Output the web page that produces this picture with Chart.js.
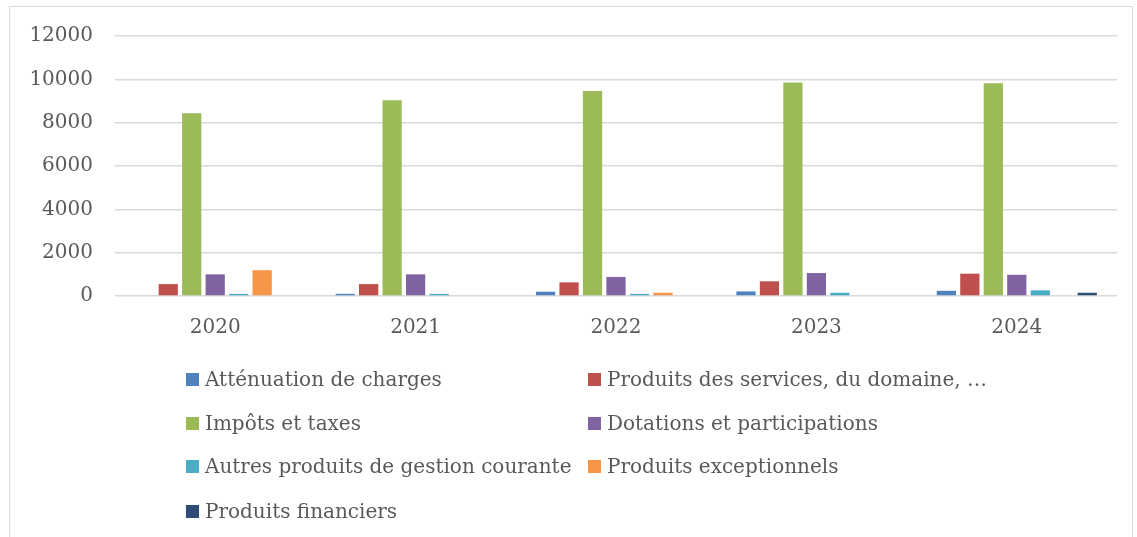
<!DOCTYPE html>
<html>
<head>
<meta charset="utf-8">
<script src="https://cdn.jsdelivr.net/npm/chart.js@4"></script>
<style>
  html, body { margin: 0; padding: 0; background: #ffffff; }
  body { width: 1137px; height: 537px; position: relative; overflow: hidden; font-family: "DejaVu Serif", serif; }
  #frame { position: absolute; left: 9px; top: 6px; width: 1124px; height: 560px; border: 1px solid #d9d9d9; box-sizing: border-box; }
  #wrap { position: absolute; left: 0; top: 0; width: 1137px; height: 340px; }
  #legend { position: absolute; left: 0; top: 0; width: 1137px; height: 537px; pointer-events: none; }
  .item { position: absolute; display: flex; align-items: center; color: #595959; font-size: 20px; white-space: nowrap; line-height: 24px; }
  .box { width: 13px; height: 13px; margin-right: 6px; flex: none; }
</style>
</head>
<body>
<div id="frame"></div>
<div id="wrap"><canvas id="c"></canvas></div>
<div id="legend"></div>
<script>
const categories = ["2020", "2021", "2022", "2023", "2024"];
const seriesNames = [
  "Atténuation de charges",
  "Produits des services, du domaine, …",
  "Impôts et taxes",
  "Dotations et participations",
  "Autres produits de gestion courante",
  "Produits exceptionnels",
  "Produits financiers"
];
const attenuation   = [0, 100, 200, 210, 240];
const produitsServ  = [550, 550, 630, 680, 1030];
const impots        = [8430, 9030, 9460, 9850, 9815];
const dotations     = [1000, 1000, 880, 1060, 980];
const autres        = [100, 100, 100, 150, 260];
const exceptionnels = [1190, 0, 150, 0, 0];
const financiers    = [0, 0, 0, 0, 150];
const yTicks = [0, 2000, 4000, 6000, 8000, 10000, 12000];

const seriesValues = [attenuation, produitsServ, impots, dotations, autres, exceptionnels, financiers];
const colors = ["#4F81BD", "#C0504D", "#9BBB59", "#8064A2", "#4BACC6", "#F79646", "#2C4D75"];

const datasets = seriesNames.map((name, i) => ({
  label: name,
  data: seriesValues[i],
  backgroundColor: colors[i],
  borderWidth: 0,
  categoryPercentage: 0.82,
  barPercentage: 0.82
}));

new Chart(document.getElementById("c"), {
  type: "bar",
  data: { labels: categories, datasets },
  options: {
    responsive: true,
    maintainAspectRatio: false,
    animation: false,
    layout: { padding: { left: 0, right: 20, top: 36, bottom: 0 } },
    plugins: { legend: { display: false }, tooltip: { enabled: false } },
    scales: {
      x: {
        grid: { display: false, drawTicks: false },
        border: { display: false },
        ticks: { color: "#595959", font: { family: "DejaVu Serif", size: 20 }, padding: 20 },
        afterFit: (s) => { s.height = 44; }
      },
      y: {
        min: 0, max: 12000,
        afterBuildTicks: (s) => { s.ticks = yTicks.map(v => ({ value: v })); },
        grid: { color: "#d9d9d9", lineWidth: 1.5, drawTicks: false },
        border: { display: false },
        ticks: { color: "#595959", font: { family: "DejaVu Serif", size: 20 }, padding: 22, callback: (v) => String(v) },
        afterFit: (s) => { s.width = 115; }
      }
    }
  }
});

const legend = document.getElementById("legend");
const colX = [186, 588];
const rowY = [379, 423, 466, 511];
seriesNames.forEach((name, i) => {
  const el = document.createElement("div");
  el.className = "item";
  el.style.left = colX[i % 2] + "px";
  el.style.top = (rowY[Math.floor(i / 2)] - 12) + "px";
  const b = document.createElement("span");
  b.className = "box";
  b.style.background = colors[i];
  const t = document.createElement("span");
  t.textContent = name;
  el.appendChild(b); el.appendChild(t);
  legend.appendChild(el);
});
</script>
</body>
</html>
